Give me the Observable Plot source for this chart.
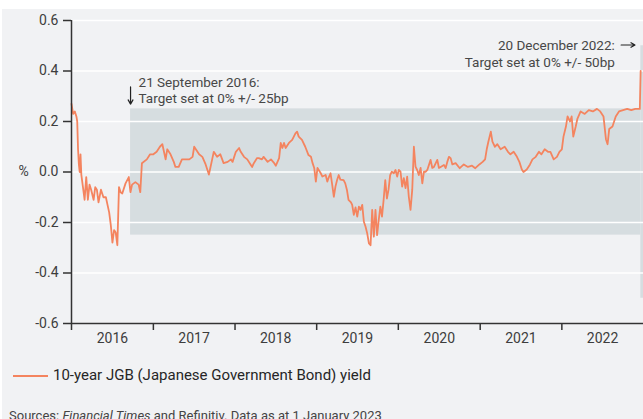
<!DOCTYPE html>
<html>
<head>
<meta charset="utf-8">
<script src="https://cdn.jsdelivr.net/npm/d3@7"></script>
<script src="https://cdn.jsdelivr.net/npm/@observablehq/plot@0.6"></script>
<style>
  html, body { margin: 0; padding: 0; background: #ffffff; width: 643px; height: 419px; overflow: hidden; }
  #bg { position: absolute; left: 2px; top: 9px; width: 641px; height: 410px; background: #f1f2f4; }
  #chart { position: absolute; left: 0; top: 0; }
  #legend-line { position: absolute; left: 13px; top: 375px; width: 35px; height: 2px; background: #f4845f; }
  #legend-text { position: absolute; left: 53px; top: 366px; font: 15px/18px Roboto, sans-serif; color: #262626; white-space: nowrap; }
  #caption { position: absolute; left: 9px; top: 408px; font: 13px/16px Roboto, sans-serif; color: #444; white-space: nowrap; }
</style>
</head>
<body>
<div id="bg"></div>
<div id="chart"></div>
<div id="legend-line"></div>
<div id="legend-text">10-year JGB (Japanese Government Bond) yield</div>
<div id="caption">Sources: <i>Financial Times</i> and Refinitiv. Data as at 1 January 2023</div>
<script>
// ---- Data (decimal year, yield %) ----
const jgbYield = [
  [2016.00, 0.27],[2016.02, 0.23],[2016.04, 0.24],[2016.06, 0.22],[2016.07, 0.20],[2016.08, 0.09],
  [2016.09, 0.03],[2016.10, 0.00],[2016.11, 0.07],[2016.12, -0.01],[2016.14, -0.06],[2016.16, -0.11],
  [2016.18, -0.02],[2016.20, -0.11],[2016.22, -0.05],[2016.24, -0.07],[2016.27, -0.11],[2016.29, -0.06],
  [2016.31, -0.07],[2016.33, -0.12],[2016.36, -0.07],[2016.39, -0.10],[2016.42, -0.10],[2016.44, -0.13],
  [2016.46, -0.16],[2016.48, -0.21],[2016.50, -0.28],[2016.52, -0.23],[2016.54, -0.24],[2016.56, -0.29],
  [2016.58, -0.06],[2016.60, -0.08],[2016.62, -0.085],[2016.66, -0.045],[2016.70, -0.02],[2016.72, -0.08],
  [2016.74, -0.05],[2016.78, -0.04],[2016.82, -0.05],[2016.84, -0.08],[2016.86, 0.035],[2016.92, 0.05],
  [2016.96, 0.07],[2017.00, 0.07],[2017.04, 0.08],[2017.08, 0.10],[2017.11, 0.11],
  [2017.13, 0.08],[2017.15, 0.05],[2017.17, 0.09],[2017.21, 0.07],[2017.25, 0.04],[2017.27, 0.02],
  [2017.31, 0.02],[2017.35, 0.05],[2017.40, 0.05],[2017.44, 0.05],[2017.48, 0.06],[2017.50, 0.10],
  [2017.52, 0.09],[2017.56, 0.07],[2017.60, 0.06],[2017.64, 0.03],[2017.66, 0.01],[2017.68, -0.01],
  [2017.70, 0.02],[2017.72, 0.05],[2017.74, 0.08],[2017.78, 0.06],[2017.82, 0.07],[2017.86, 0.035],
  [2017.91, 0.04],[2017.95, 0.05],[2017.97, 0.04],[2018.01, 0.08],[2018.05, 0.095],[2018.07, 0.08],
  [2018.11, 0.06],[2018.15, 0.05],[2018.19, 0.03],[2018.21, 0.02],[2018.23, 0.035],[2018.27, 0.055],
  [2018.29, 0.055],[2018.33, 0.05],[2018.35, 0.06],[2018.40, 0.04],[2018.44, 0.05],[2018.48, 0.035],
  [2018.50, 0.025],[2018.52, 0.04],[2018.54, 0.055],[2018.56, 0.115],[2018.58, 0.095],[2018.60, 0.115],
  [2018.62, 0.095],[2018.66, 0.115],[2018.70, 0.127],[2018.72, 0.14],[2018.74, 0.153],[2018.76, 0.16],
  [2018.78, 0.14],[2018.82, 0.127],[2018.86, 0.10],[2018.90, 0.067],[2018.93, 0.06],[2018.95, 0.035],
  [2018.97, 0.016],[2018.99, -0.038],[2019.01, 0.016],[2019.05, -0.005],[2019.07, -0.018],[2019.11, -0.012],
  [2019.13, -0.038],[2019.15, -0.02],[2019.17, -0.005],[2019.19, -0.05],[2019.21, -0.098],[2019.23, -0.058],
  [2019.25, -0.032],[2019.27, -0.012],[2019.29, -0.03],[2019.33, -0.032],[2019.35, -0.045],[2019.37, -0.07],
  [2019.39, -0.11],[2019.42, -0.12],[2019.435, -0.13],[2019.455, -0.17],[2019.476, -0.14],[2019.497, -0.177],
  [2019.517, -0.137],[2019.537, -0.15],[2019.558, -0.13],[2019.578, -0.197],[2019.598, -0.216],[2019.619, -0.243],
  [2019.64, -0.283],[2019.66, -0.29],[2019.68, -0.15],[2019.70, -0.256],[2019.72, -0.15],[2019.74, -0.25],
  [2019.76, -0.19],[2019.78, -0.137],[2019.80, -0.177],[2019.82, -0.11],[2019.84, -0.032],[2019.86, -0.105],
  [2019.88, -0.07],[2019.90, -0.012],[2019.92, 0.001],[2019.945, -0.005],[2019.966, 0.008],[2019.986, -0.018],
  [2020.006, 0.008],[2020.027, 0.001],[2020.047, -0.058],[2020.067, -0.024],[2020.088, -0.064],[2020.108, -0.018],
  [2020.128, -0.098],[2020.149, -0.15],[2020.17, -0.07],[2020.19, 0.10],[2020.21, 0.021],[2020.23, 0.008],
  [2020.25, -0.012],[2020.272, 0.016],[2020.293, -0.045],[2020.313, 0.001],[2020.333, 0.001],[2020.354, 0.008],
  [2020.394, 0.048],[2020.415, 0.016],[2020.435, 0.02],[2020.476, 0.048],[2020.496, 0.016],[2020.517, 0.02],
  [2020.557, 0.028],[2020.578, 0.016],[2020.598, 0.04],[2020.618, 0.06],[2020.639, 0.055],
  [2020.66, 0.03],[2020.70, 0.035],[2020.75, 0.015],[2020.80, 0.03],[2020.85, 0.02],[2020.90, 0.025],
  [2020.94, 0.015],[2020.99, 0.03],[2021.03, 0.04],[2021.06, 0.05],[2021.08, 0.09],[2021.10, 0.12],
  [2021.13, 0.16],[2021.15, 0.12],[2021.18, 0.10],[2021.21, 0.11],[2021.25, 0.09],[2021.30, 0.10],
  [2021.34, 0.08],[2021.37, 0.07],[2021.41, 0.08],[2021.45, 0.06],[2021.48, 0.04],[2021.51, 0.01],
  [2021.53, 0.00],[2021.57, 0.01],[2021.61, 0.03],[2021.64, 0.05],[2021.68, 0.06],[2021.72, 0.08],
  [2021.75, 0.07],[2021.79, 0.09],[2021.83, 0.08],[2021.86, 0.08],[2021.90, 0.05],[2021.94, 0.06],
  [2021.97, 0.08],[2022.00, 0.09],[2022.02, 0.14],[2022.05, 0.18],[2022.07, 0.22],[2022.10, 0.20],
  [2022.12, 0.22],[2022.14, 0.14],[2022.17, 0.18],[2022.19, 0.21],[2022.23, 0.24],[2022.28, 0.23],
  [2022.33, 0.245],[2022.38, 0.24],[2022.43, 0.25],[2022.47, 0.24],[2022.51, 0.22],[2022.54, 0.13],
  [2022.56, 0.11],[2022.58, 0.17],[2022.62, 0.18],[2022.66, 0.22],[2022.70, 0.24],[2022.75, 0.245],
  [2022.80, 0.25],[2022.85, 0.245],[2022.90, 0.25],[2022.955, 0.25],[2022.965, 0.40]
];

const bandStart = ["2016-09-21", "2022-12-20"];
const bandEnd   = ["2022-12-20", "2023-01-01"];
const bandLow   = [-0.25, -0.5];
const bandHigh  = [0.25, 0.5];

const yTicks = [-0.6, -0.4, -0.2, 0, 0.2, 0.4, 0.6];
const years = [2016, 2017, 2018, 2019, 2020, 2021, 2022];

const noteDates = ["2016-09-21", "2022-12-20"];
const noteTexts = [
  "21 September 2016:\nTarget set at 0% +/- 25bp",
  "20 December 2022:\nTarget set at 0% +/- 50bp"
];

// ---- helpers ----
const toDate = v => {
  const y = Math.floor(v);
  const s = Date.UTC(y, 0, 1), e = Date.UTC(y + 1, 0, 1);
  return new Date(s + (v - y) * (e - s));
};
const parse = s => new Date(s + "T00:00:00Z");

const series = jgbYield.map(([t, v]) => ({date: toDate(t), value: v}));
const bands = bandStart.map((s, i) => ({x1: parse(s), x2: parse(bandEnd[i]), y1: bandLow[i], y2: bandHigh[i]}));
const yearStarts = years.map(y => new Date(Date.UTC(y, 0, 1)));
const yearMids = years.map(y => new Date(Date.UTC(y, 6, 2)));
const notes = noteDates.map((d, i) => ({date: parse(d), text: noteTexts[i]}));

const lineColor = "#f4845f";

const chart = Plot.plot({
  width: 643,
  height: 345,
  marginLeft: 71,
  marginRight: 0,
  marginTop: 20,
  marginBottom: 22,
  style: {fontFamily: "Roboto, sans-serif", fontSize: "14px", background: "transparent", color: "#3d3d3d", overflow: "visible"},
  x: {type: "utc", domain: [new Date(Date.UTC(2016, 0, 1)), new Date(Date.UTC(2023, 0, 1))], label: null},
  y: {domain: [-0.6, 0.6], label: null},
  marks: [
    Plot.rect(bands, {x1: "x1", x2: "x2", y1: "y1", y2: "y2", fill: "#d6dde0"}),
    Plot.ruleY(yTicks, {stroke: "#ffffff", strokeWidth: 1.6}),
    Plot.line(series, {x: "date", y: "value", stroke: lineColor, strokeWidth: 1.8, curve: "linear"}),
    Plot.ruleY([-0.6], {stroke: "#333", strokeWidth: 1.5}),
    Plot.ruleX([yearStarts[0]], {stroke: "#333", strokeWidth: 1.5}),
    Plot.axisY(yTicks, {anchor: "left", tickSize: 8, tickPadding: 5, tickFormat: d => d.toFixed(1), label: null, stroke: "#333", strokeWidth: 1.5, fontSize: 14}),
    Plot.axisX(yearStarts, {anchor: "bottom", tickSize: 7, tickFormat: () => "", label: null, stroke: "#333", strokeWidth: 1.5}),
    Plot.axisX(yearMids, {anchor: "bottom", tickSize: 0, tickPadding: 10, tickFormat: d => String(d.getUTCFullYear()), label: null, fontSize: 14}),
    Plot.text(["%"], {frameAnchor: "left", y: () => 0, textAnchor: "start", dx: -53, fontSize: 14}),
    Plot.text([notes[0]], {x: "date", y: () => 0.325, text: "text", textAnchor: "start", dx: 8, lineHeight: 1.2, fontSize: 13.5, fill: "#474747"}),
    Plot.text([notes[1]], {x: "date", y: () => 0.47, text: "text", textAnchor: "end", dx: -26, lineHeight: 1.2, fontSize: 13.5, fill: "#474747"}),
    Plot.arrow([notes[0]], {x1: "date", x2: "date", y1: () => 0.337, y2: () => 0.269, stroke: "#222", strokeWidth: 1.2, headLength: 6}),
    Plot.arrow([notes[1]], {x1: d => new Date(d.date.getTime() - 88 * 864e5), x2: d => new Date(d.date.getTime() - 26 * 864e5), y1: () => 0.503, y2: () => 0.503, stroke: "#222", strokeWidth: 1.2, headLength: 6})
  ]
});
document.getElementById("chart").appendChild(chart);
</script>
</body>
</html>
